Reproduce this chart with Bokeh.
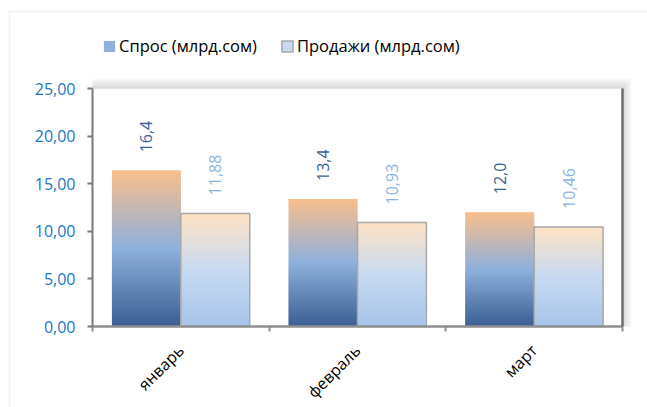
import math
from bokeh.plotting import figure
from bokeh.models import (Range1d, FixedTicker, LinearAxis, Legend, LegendItem,
                          BoxAnnotation, ColumnDataSource)
from bokeh.core.properties import value
from bokeh.embed import file_html
from bokeh.resources import INLINE

# ---------------- data ----------------
months = ["январь", "февраль", "март"]
demand = [16.4, 13.4, 12.0]
sales = [11.88, 10.93, 10.46]
series_names = ["Спрос (млрд.сом)", "Продажи (млрд.сом)"]
y_ticks = [0, 5, 10, 15, 20, 25]
y_tick_labels = ["0,00", "5,00", "10,00", "15,00", "20,00", "25,00"]
demand_labels = ["16,4", "13,4", "12,0"]
sales_labels = ["11,88", "10,93", "10,46"]

FONT = "Open Sans"
FS = "16px"
BAR_W = 0.39
N_SLICES = 70

# layout (page pixels)
W, H = 647, 407
PX_LEFT, PX_RIGHT, PX_TOP, PX_BOTTOM = 92, 622, 88, 326
N_CAT = len(months)
Y_MAX = y_ticks[-1]
ux = (PX_RIGHT - PX_LEFT) / N_CAT
uy = (PX_BOTTOM - PX_TOP) / Y_MAX

demand_stops = [(0.0, "#3a5e92"), (0.5, "#8eb0dc"), (1.0, "#f9bf8c")]
sales_stops = [(0.0, "#a7c4ea"), (0.5, "#c7daf2"), (1.0, "#ffe3c4")]


def hex2rgb(h):
    return tuple(int(h[i:i + 2], 16) for i in (1, 3, 5))


def interp(stops, t):
    for (p0, c0), (p1, c1) in zip(stops[:-1], stops[1:]):
        if p0 <= t <= p1:
            f = (t - p0) / (p1 - p0)
            a, b = hex2rgb(c0), hex2rgb(c1)
            return "#%02x%02x%02x" % tuple(round(a[i] + (b[i] - a[i]) * f) for i in range(3))
    return stops[-1][1]


# slice order starts at mid-height so that the first rows carry the mid colour (used by the legend)
SLICE_ORDER = list(range(N_SLICES // 2, N_SLICES)) + list(range(0, N_SLICES // 2))


def gradient_source(values, offset, stops):
    xs, bots, tops, cols = [], [], [], []
    ov = 1.2 / uy  # overlap of ~1px between slices
    for k in SLICE_ORDER:
        for i, v in enumerate(values):
            t0, t1 = k / N_SLICES, (k + 1) / N_SLICES
            xs.append(i + 0.5 + offset)
            bots.append(v * t0)
            tops.append(min(v, v * t1 + ov))
            cols.append(interp(stops, (t0 + t1) / 2))
    return ColumnDataSource(dict(x=xs, bottom=bots, top=tops, color=cols))


p = figure(width=W, height=H,
           x_range=Range1d(-PX_LEFT / ux, (W - PX_LEFT) / ux),
           y_range=Range1d(-(H - PX_BOTTOM) / uy, PX_BOTTOM / uy),
           output_backend="svg", toolbar_location=None, min_border=0)
p.background_fill_color = "white"
p.border_fill_color = "white"
p.outline_line_color = None
p.xgrid.visible = False
p.ygrid.visible = False

# outer chart border
p.add_layout(BoxAnnotation(left=(9 - PX_LEFT) / ux, right=50, top=(PX_BOTTOM - 11) / uy, bottom=-500,
                           fill_alpha=0, line_color="#d9d9d9", line_width=2, level="underlay"))

# plot-area shadow (top and right)
for k in range(1, 6):
    p.add_layout(BoxAnnotation(left=0, right=N_CAT + 0.01 * k, bottom=0, top=Y_MAX + 0.2 * k,
                               fill_color="#9a9a9a", fill_alpha=0.08, line_color=None, level="underlay"))
p.add_layout(BoxAnnotation(left=0, right=N_CAT, bottom=0, top=Y_MAX, fill_color="white", fill_alpha=1,
                           line_color="#d4d4d4", line_width=2, level="underlay"))

# grid lines
p.segment(x0=0, x1=N_CAT, y0=y_ticks[1:-1], y1=y_ticks[1:-1], line_color="#e8e8e8",
          line_width=2, level="underlay")

# gradient bars
r_dem = p.vbar(x="x", bottom="bottom", top="top", width=BAR_W, fill_color="color",
               line_color=None, source=gradient_source(demand, -BAR_W / 2, demand_stops))
r_sal = p.vbar(x="x", bottom="bottom", top="top", width=BAR_W, fill_color="color",
               line_color=None, source=gradient_source(sales, BAR_W / 2, sales_stops))

# sales outline
sales_src = ColumnDataSource(dict(x=[i + 0.5 + BAR_W / 2 for i in range(N_CAT)], top=sales))
r_sal_line = p.vbar(x="x", top="top", bottom=0, width=BAR_W, fill_color=None,
                    line_color="#a8a8a8", line_width=1.5, source=sales_src)

# data labels
dl_src = ColumnDataSource(dict(x=[i + 0.5 - BAR_W / 2 for i in range(N_CAT)], y=demand, t=demand_labels))
sl_src = ColumnDataSource(dict(x=[i + 0.5 + BAR_W / 2 for i in range(N_CAT)], y=sales, t=sales_labels))
p.text(x="x", y="y", text="t", source=dl_src, angle=math.pi / 2, text_align="left",
       text_baseline="middle", y_offset=-18, text_font=value(FONT), text_font_size=FS,
       text_color="#3a6194")
p.text(x="x", y="y", text="t", source=sl_src, angle=math.pi / 2, text_align="left",
       text_baseline="middle", y_offset=-18, text_font=value(FONT), text_font_size=FS,
       text_color="#8eb4e3")

# y axis
ya = p.yaxis[0]
ya.fixed_location = 0
ya.bounds = (0, Y_MAX)
ya.ticker = FixedTicker(ticks=y_ticks)
ya.major_label_overrides = {float(t): l for t, l in zip(y_ticks, y_tick_labels)}
ya.axis_line_color = "#7a7a7a"
ya.axis_line_width = 2
ya.major_tick_line_color = "#7a7a7a"
ya.major_tick_line_width = 2
ya.major_tick_in = 0
ya.major_tick_out = 5
ya.minor_tick_line_color = None
ya.major_label_standoff = 12
ya.major_label_text_font = FONT
ya.major_label_text_font_size = FS
ya.major_label_text_color = "#2178c6"

# x axis (labels at centres, ticks at category boundaries)
xa = p.xaxis[0]
xa.fixed_location = 0
xa.bounds = (0, N_CAT)
centers = [i + 0.5 for i in range(N_CAT)]
bounds = [float(i) for i in range(N_CAT + 1)]
xa.ticker = FixedTicker(ticks=centers, minor_ticks=bounds)
xa.major_label_overrides = {c: m for c, m in zip(centers, months)}
xa.major_label_orientation = math.pi / 4
xa.axis_line_color = "#8f8f8f"
xa.axis_line_width = 2.5
xa.major_tick_line_color = None
xa.major_tick_out = 0
xa.major_tick_in = 0
xa.minor_tick_line_color = "#8f8f8f"
xa.minor_tick_line_width = 2
xa.minor_tick_in = 0
xa.minor_tick_out = 5
xa.major_label_standoff = 16
xa.major_label_text_font = FONT
xa.major_label_text_font_size = FS
xa.major_label_text_color = "#000000"

# right border as axis
ra = LinearAxis(ticker=FixedTicker(ticks=[]), fixed_location=N_CAT, bounds=(0, Y_MAX),
                axis_line_color="#6e6e6e", axis_line_width=2.5,
                major_tick_line_color=None, minor_tick_line_color=None,
                major_label_text_font_size="0px", major_label_standoff=0)
p.add_layout(ra, "right")

# legend (glyphs taken from the mid-height slice of each series)
legend = Legend(items=[LegendItem(label=series_names[0], renderers=[r_dem], index=0),
                       LegendItem(label=series_names[1], renderers=[r_sal, r_sal_line], index=2)],
                orientation="horizontal", location=(102, H - 57),
                label_text_font=FONT, label_text_font_size="16.5px", label_text_color="#000000",
                glyph_width=14, glyph_height=14, label_standoff=3, spacing=23,
                padding=0, margin=0, label_height=20,
                background_fill_alpha=0, border_line_color=None)
p.add_layout(legend, "center")

open("out.html", "w").write(file_html(p, INLINE))
